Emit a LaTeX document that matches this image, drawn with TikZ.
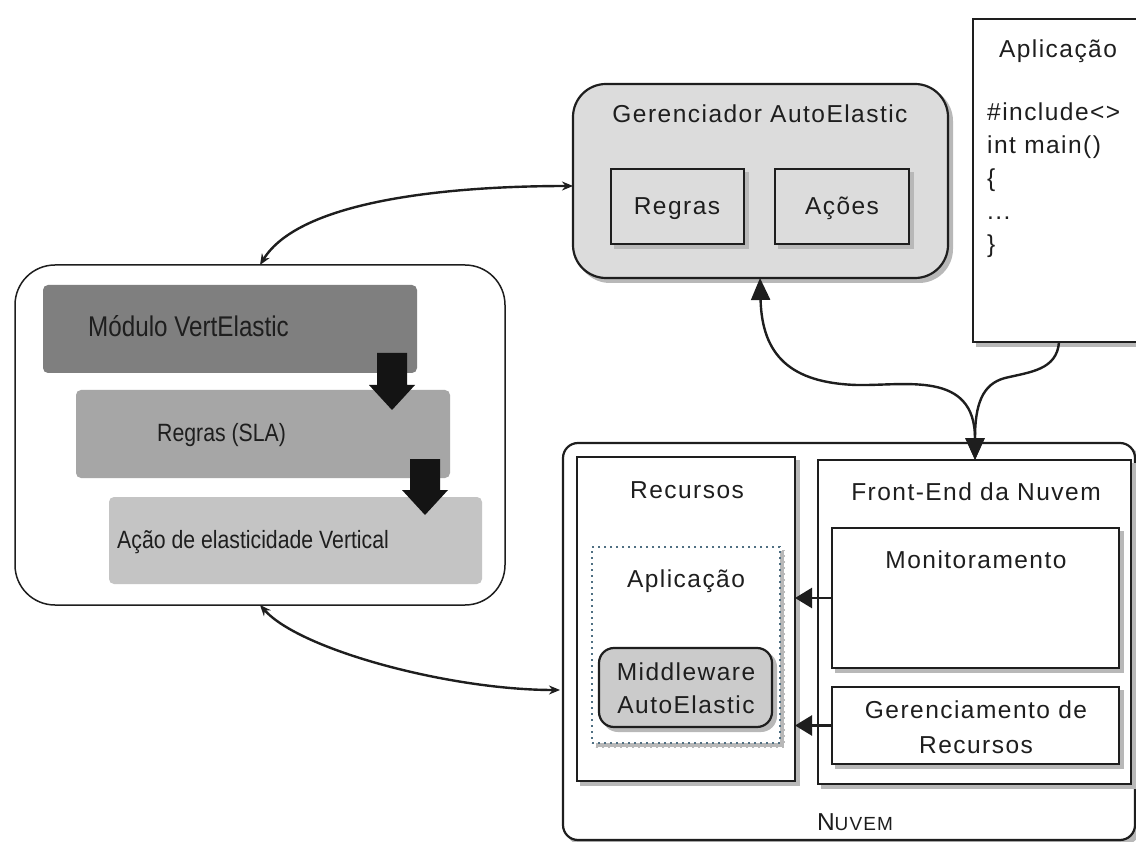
\documentclass[tikz,border=0pt]{standalone}
\usepackage{fontspec}
\setmainfont{Liberation Sans}
\newfontfamily\rf{Liberation Sans}[LetterSpace=6.0]
\newfontfamily\lf{Liberation Sans}[FakeStretch=0.85]
\usetikzlibrary{arrows.meta,shadows}
\definecolor{ink}{HTML}{1E1E1E}
\definecolor{gerfill}{HTML}{DCDCDC}
\definecolor{gone}{HTML}{7F7F7F}
\definecolor{gtwo}{HTML}{A6A6A6}
\definecolor{gthree}{HTML}{C4C4C4}
\definecolor{mwfill}{HTML}{CBCBCB}
\definecolor{dotc}{HTML}{4F6F82}
\definecolor{shc}{HTML}{B8B8B8}
\tikzset{
  sz/.style 2 args={minimum width=#1pt, minimum height=#2pt},
  bx/.style={draw=ink, line width=2.2pt, fill=white, anchor=north west, inner sep=0pt, outer sep=0pt},
  shd/.style={preaction={fill=shc, draw=shc, line width=2pt, transform canvas={xshift=4pt, yshift=-4pt}}},
  rt/.style={font=\rf\fontsize{24.5}{28}\selectfont, text=ink, inner sep=0pt, anchor=base},
  ct/.style={font=\rf\fontsize{24.5}{28}\selectfont, text=ink, inner sep=0pt, anchor=base west},
  lt/.style={font=\lf\fontsize{25}{28}\selectfont, text=ink, inner sep=0pt, anchor=base west},
  gbox/.style={anchor=north west, inner sep=0pt, outer sep=0pt, rounded corners=5pt},
  con/.style={draw=ink, line width=2.4pt},
  bigtip/.tip={Triangle[length=22pt,width=19pt]},
  smalltip/.tip={Stealth[length=11pt,width=9pt]},
  sidetip/.tip={Triangle[length=17pt,width=20pt]},
}
\begin{document}
\begin{tikzpicture}[x=1pt,y=-1pt]
\useasboundingbox (0,0) rectangle (1136,842);
\clip (0,0) rectangle (1136,842);

% Gerenciador AutoElastic
\node[bx, shd, fill=gerfill, rounded corners=33pt, sz={375}{194}] (ger) at (573,84) {};
\node[rt] (gertitle) at (760,123) {Gerenciador AutoElastic};
\node[bx, shd, fill=gerfill, sz={133}{75}] (regras) at (611,169) {};
\node[rt] (regrastxt) at (677,215) {Regras};
\node[bx, shd, fill=gerfill, sz={134}{75}] (acoes) at (775,169) {};
\node[rt] (acoestxt) at (842,215) {Ações};

% Aplicacao (code)
\node[bx, shd, sz={185}{323}] (app) at (973,19) {};
\node[rt] (apptitle) at (1058,58) {Aplicação};
\node[ct] (l1) at (987,121) {\#include<>};
\node[ct] (l2) at (987,154) {int main()};
\node[ct] (l3) at (987,187) {\{};
\node[ct] (l4) at (987,220) {...};
\node[ct] (l5) at (987,253) {\}};

% VertElastic module
\node[bx, line width=1.5pt, rounded corners=40pt, sz={490}{340}] (vert) at (15,265) {};
\node[gbox, fill=gone, sz={374}{88}] (mod) at (43,285) {};
\node[gbox, fill=gtwo, sz={374}{88}] (rsla) at (76,390) {};
\node[gbox, fill=gthree, sz={373}{87}] (acao) at (109,497) {};
\node[lt, font=\lf\fontsize{28.5}{30}\selectfont] (modtxt) at (88,337) {Módulo VertElastic};
\node[lt] (rslatxt) at (157,442) {Regras (SLA)};
\node[lt] (acaotxt) at (117,548) {Ação de elasticidade Vertical};
\fill[black!92] (377,353) -- (407,353) -- (407,385) -- (415,385) -- (392,410) -- (369,385) -- (377,385) -- cycle;
\fill[black!92] (410,459) -- (440,459) -- (440,490) -- (448,490) -- (425,515) -- (402,490) -- (410,490) -- cycle;

% Nuvem
\node[bx, shd, rounded corners=15pt, sz={572}{397}] (nuvem) at (563,443) {};
\node[bx, shd, sz={218}{324}] (rec) at (577,457) {};
\node[rt] (rectxt) at (687,498) {Recursos};
\node[bx, shd, draw=dotc, line width=2pt, dash pattern=on 2pt off 4pt, sz={188}{196}] (dapp) at (592,547) {};
\node[rt] (dapptxt) at (686,587) {Aplicação};
\node[bx, shd, fill=mwfill, rounded corners=15pt, sz={173}{79}] (mw) at (599,648) {};
\node[rt] (mw1) at (686,680) {Middleware};
\node[rt] (mw2) at (686,713) {AutoElastic};
\node[bx, shd, sz={313}{324}] (fe) at (818,460) {};
\node[rt] (fetxt) at (976,500) {Front-End da Nuvem};
\node[bx, shd, sz={287}{140}] (mon) at (832,528) {};
\node[rt] (montxt) at (976,568) {Monitoramento};
\node[bx, shd, sz={287}{77}] (grec) at (832,687) {};
\node[rt] (grec1) at (976,718) {Gerenciamento de};
\node[rt] (grec2) at (976,753) {Recursos};
\node[rt] (nuvtxt) at (855,830) {N{\fontsize{19}{20}\selectfont UVEM}};

% connectors
\draw[con, {smalltip}-{smalltip}] (vert.north -| 260,0) .. controls (300,200) and (450,186) .. ([yshift=-5pt]ger.west);
\draw[con, {smalltip}-{smalltip}] (vert.south -| 260,0) .. controls (300,650) and (450,690) .. ([xshift=-3pt]nuvem.west |- 0,690);
\draw[con, {bigtip}-{bigtip}] (ger.south -| 760,0) .. controls (762,355) and (790,383) .. (857,385) .. controls (905,386) and (975,370) .. (fe.north -| 975,0);
\draw[con, -{bigtip}] (app.south -| 1059,0) .. controls (1057,370) and (1030,372) .. (1005,378) .. controls (982,384) and (975,405) .. (fe.north -| 975,0);
\draw[con, -{sidetip}] (mon.west) -- (mon.west -| rec.east);
\draw[con, -{sidetip}] (grec.west) -- (grec.west -| rec.east);
\end{tikzpicture}
\end{document}
